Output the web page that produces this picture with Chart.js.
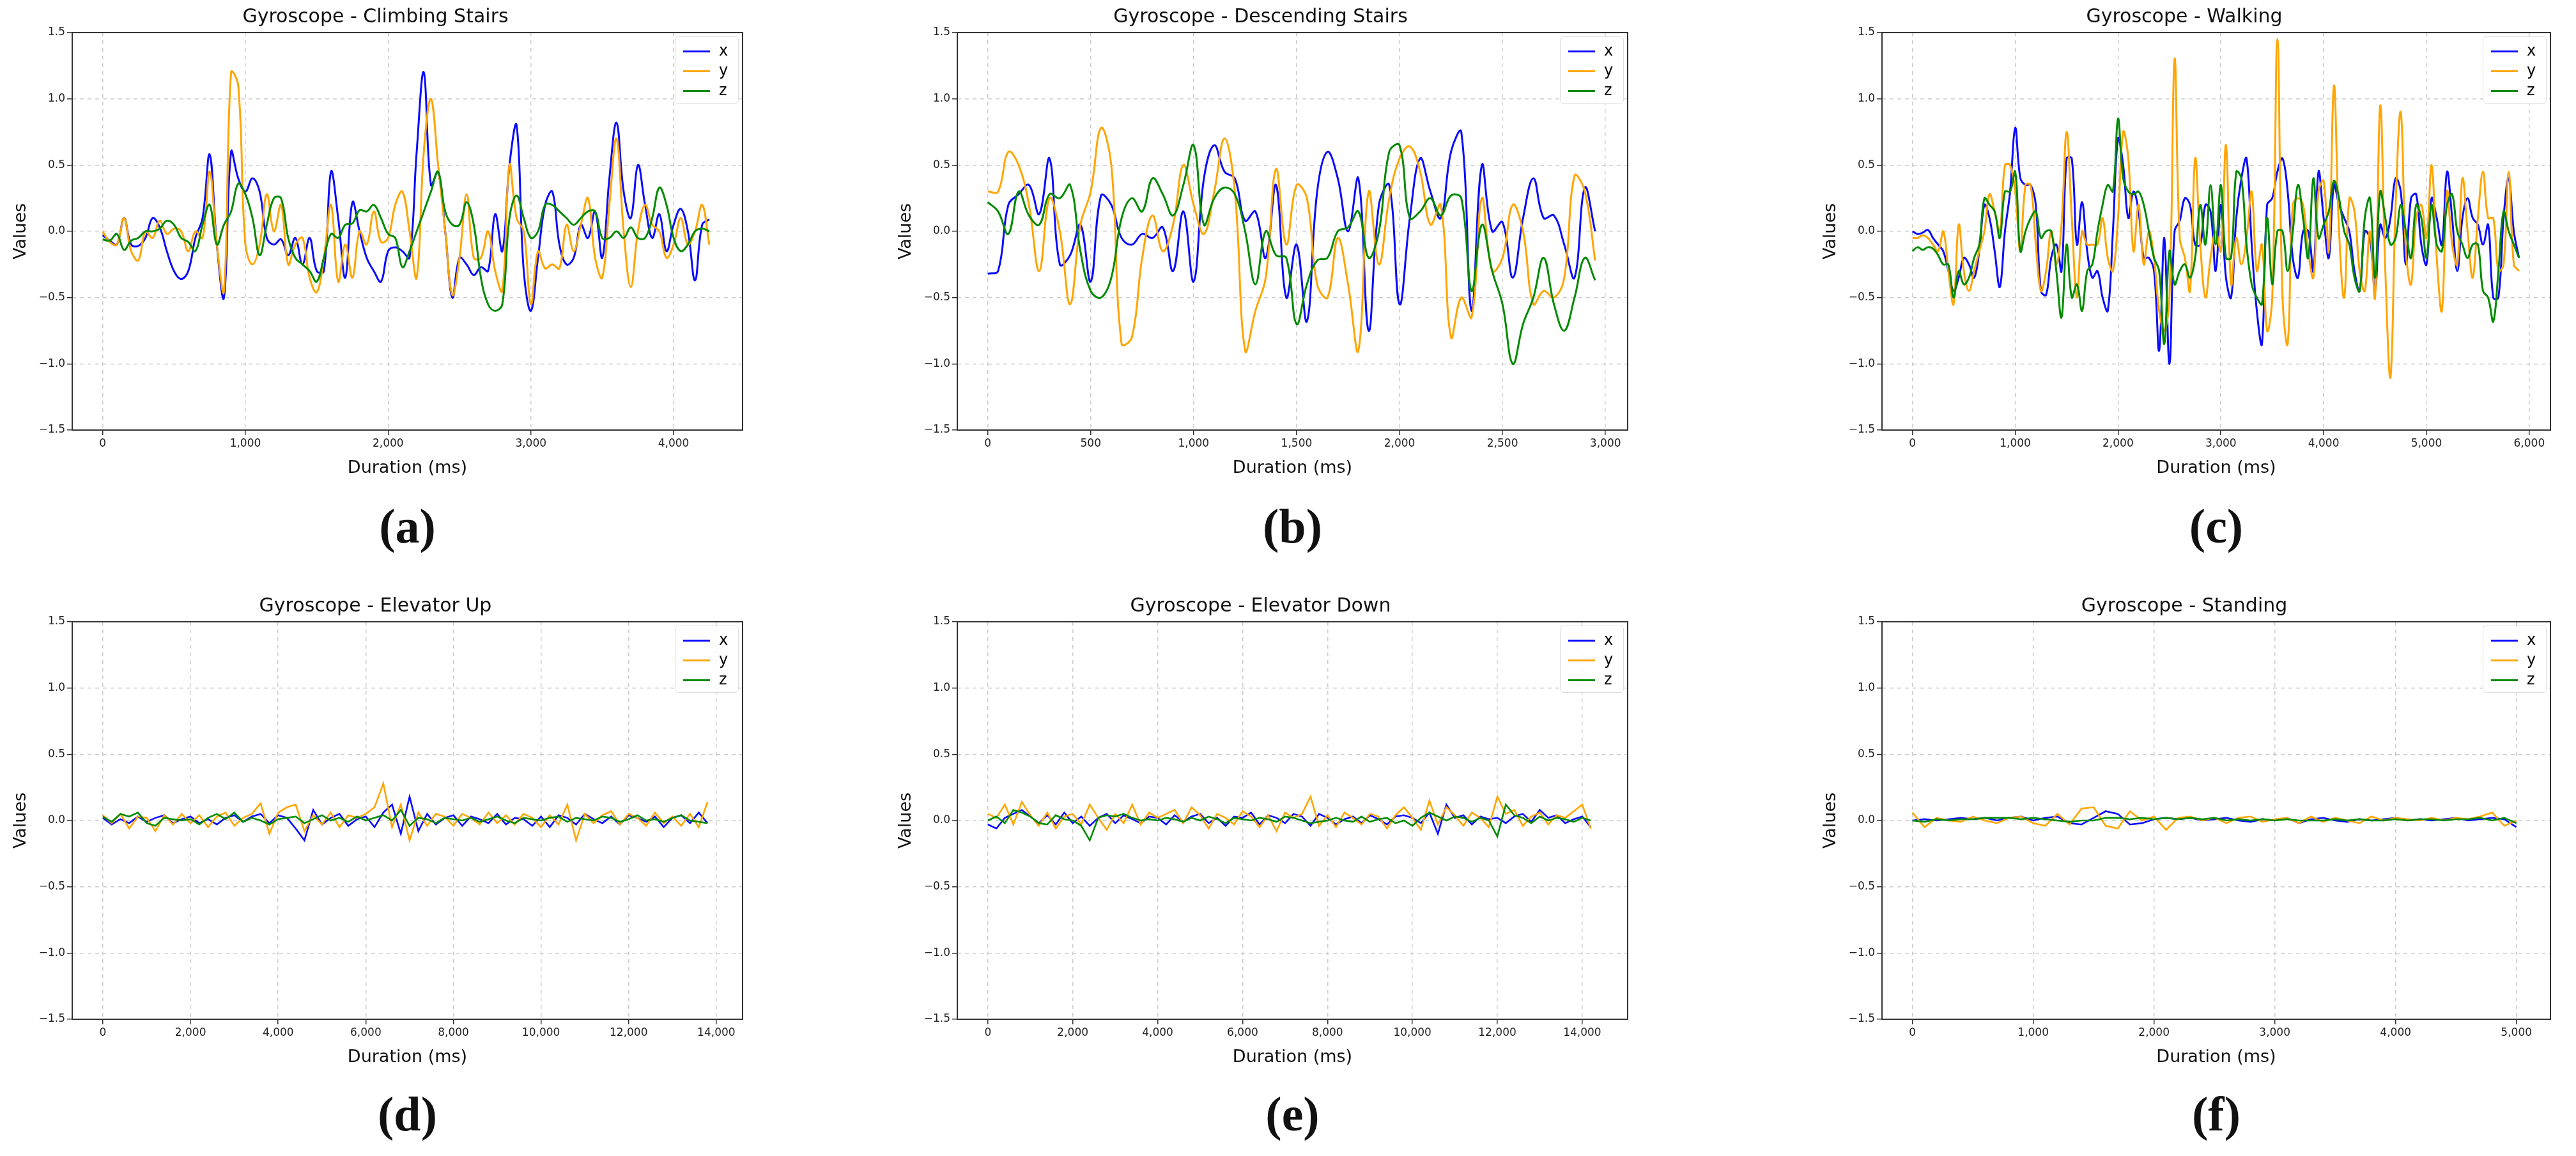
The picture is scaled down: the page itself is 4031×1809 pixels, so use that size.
<!DOCTYPE html>
<html>
<head>
<meta charset="utf-8">
<script src="https://cdn.jsdelivr.net/npm/chart.js@4.4.1/dist/chart.umd.min.js"></script>
<style>
  body { margin: 0; background: #fff; }
  #page { position: relative; width: 4031px; height: 1809px; background: #fff; overflow: hidden; }
  .panel { position: absolute; }
  .caption { position: absolute; font-family: "Liberation Serif", serif; font-weight: bold; font-size: 76px; transform: translate(-50%, -50%); color: #111; }
  .legend { position: absolute; width: 100px; height: 105px; border: 1.5px solid #ddd; border-radius: 5px; background: rgba(255,255,255,0.85); box-sizing: border-box; font-family: "DejaVu Sans", sans-serif; font-size: 24px; }
  .legend div { position: absolute; left: 12px; height: 30px; line-height: 30px; }
  .legend span.ln { display: inline-block; width: 42px; height: 3px; vertical-align: middle; margin-right: 14px; }
</style>
</head>
<body>
<div id="page"></div>
<script>
// ---- data (gyroscope readings) ----
const titles = ['Gyroscope - Climbing Stairs', 'Gyroscope - Descending Stairs', 'Gyroscope - Walking',
  'Gyroscope - Elevator Up', 'Gyroscope - Elevator Down', 'Gyroscope - Standing'];
const captions = ['(a)', '(b)', '(c)', '(d)', '(e)', '(f)'];
const steps = [50, 50, 50, 200, 200, 100];          // sample spacing in ms
const xRanges = [[-213, 4483], [-148, 3108], [-296, 6206], [-700, 14600], [-720, 15070], [-252, 5282]];
const xTickSteps = [1000, 500, 1000, 2000, 2000, 1000];
const yTicks = [-1.5, -1.0, -0.5, 0.0, 0.5, 1.0, 1.5];

const climbX = [-0.03,-0.07,-0.1,0.1,-0.1,-0.11,-0.05,0.1,0.03,-0.15,
  -0.3,-0.36,-0.3,-0.05,0.1,0.58,-0.1,-0.5,0.6,0.4,
  0.3,0.4,0.3,-0.05,-0.1,-0.06,-0.18,-0.05,-0.25,-0.05,
  -0.3,-0.3,0.45,0.1,-0.35,0.22,0.0,-0.2,-0.3,-0.38,
  -0.15,-0.12,-0.15,-0.2,0.6,1.2,0.35,0.45,0.0,-0.5,
  -0.2,-0.25,-0.33,-0.27,-0.3,0.13,-0.15,0.5,0.8,-0.3,
  -0.6,-0.2,0.2,0.3,-0.1,-0.25,-0.2,0.05,-0.05,0.15,
  -0.2,0.4,0.82,0.3,0.1,0.5,0.2,-0.05,0.13,-0.15,
  0.05,0.17,0.0,-0.37,0.05,0.09];
const climbY = [0.0,-0.08,-0.1,0.1,-0.15,-0.22,0.0,-0.05,0.08,-0.02,
  0.02,0.0,-0.15,0.0,-0.05,0.45,-0.1,-0.45,1.2,1.1,
  -0.1,-0.25,-0.1,0.28,0.0,0.2,-0.25,-0.1,-0.05,-0.35,
  -0.46,-0.2,0.2,-0.38,-0.1,-0.35,0.0,-0.1,0.15,-0.08,
  -0.05,0.2,0.3,0.0,-0.35,0.6,1.0,0.5,0.0,-0.48,
  -0.2,0.28,-0.2,-0.2,0.0,-0.3,-0.45,0.5,0.1,0.0,
  -0.55,-0.15,-0.28,-0.25,-0.28,0.05,-0.15,0.05,0.25,-0.2,
  -0.35,0.2,0.7,0.0,-0.42,0.0,0.2,0.05,0.0,-0.2,
  -0.1,0.1,-0.1,0.0,0.2,-0.1];
const climbZ = [-0.06,-0.07,-0.02,-0.14,-0.07,-0.05,0.0,0.0,0.02,0.08,
  0.05,-0.05,-0.08,-0.15,0.05,0.2,-0.1,0.05,0.15,0.36,
  0.28,0.1,-0.18,0.05,0.25,0.25,-0.05,-0.2,-0.25,-0.3,
  -0.38,-0.2,-0.02,-0.05,0.05,0.06,0.16,0.15,0.2,0.1,
  -0.02,-0.05,-0.27,-0.15,0.0,0.15,0.3,0.45,0.15,0.05,
  0.05,0.22,0.05,-0.35,-0.55,-0.6,-0.55,0.1,0.27,0.1,
  -0.05,0.0,0.2,0.2,0.15,0.1,0.05,0.1,0.15,0.15,
  -0.05,-0.05,0.0,-0.05,0.03,-0.05,-0.05,0.1,0.33,0.2,
  -0.05,-0.15,-0.1,0.0,0.02,0.0];

const descX = [-0.32,-0.3,0.2,0.28,0.35,0.13,0.55,-0.25,-0.18,0.05,
  -0.38,0.27,0.2,-0.05,-0.1,-0.02,-0.05,0.03,-0.3,0.15,
  -0.38,0.4,0.65,0.45,0.4,0.08,0.15,-0.2,0.35,-0.5,
  -0.1,-0.68,0.3,0.6,0.4,0.0,0.4,-0.75,0.2,0.35,
  -0.55,0.1,0.55,0.3,0.1,0.6,0.75,-0.6,0.5,0.0,
  0.07,-0.35,0.1,0.4,0.1,0.12,-0.1,-0.35,0.33,0.0];
const descY = [0.3,0.3,0.6,0.5,0.2,-0.3,0.25,0.0,-0.55,0.05,
  0.3,0.78,0.5,-0.85,-0.8,-0.2,0.12,-0.15,0.05,0.5,
  0.2,-0.02,0.3,0.7,0.3,-0.9,-0.6,-0.35,0.47,-0.1,
  0.35,0.25,-0.4,-0.5,-0.05,-0.4,-0.9,0.3,-0.25,0.25,
  0.55,0.64,0.45,0.05,0.2,-0.8,-0.5,-0.65,0.25,-0.3,
  -0.2,0.2,0.0,-0.55,-0.45,-0.5,-0.35,0.42,0.3,-0.22];
const descZ = [0.22,0.15,-0.02,0.3,0.12,0.05,0.28,0.25,0.35,-0.15,
  -0.45,-0.5,-0.35,0.1,0.25,0.15,0.4,0.28,0.12,0.35,
  0.65,0.05,0.25,0.33,0.28,0.0,-0.4,0.0,-0.18,-0.2,
  -0.7,-0.4,-0.22,-0.2,0.0,0.03,0.15,-0.2,0.0,0.6,
  0.65,0.1,0.15,0.25,0.12,0.27,0.25,-0.45,0.05,-0.3,
  -0.55,-1.0,-0.7,-0.5,-0.2,-0.55,-0.75,-0.5,-0.2,-0.37];

const walkX = [0.0,-0.02,-0.01,0.01,-0.05,-0.1,-0.15,-0.3,-0.45,-0.35,
  -0.2,-0.25,-0.35,-0.15,0.2,0.1,-0.15,-0.42,0.0,0.3,
  0.78,0.4,0.35,0.35,0.2,-0.45,-0.48,-0.2,-0.1,-0.3,
  0.55,0.55,-0.1,0.22,-0.15,-0.35,-0.3,-0.5,-0.6,0.0,
  0.7,0.5,0.1,0.3,0.15,-0.2,-0.2,-0.3,-0.9,-0.05,
  -1.0,0.0,0.08,0.25,0.2,-0.1,-0.1,0.2,0.15,-0.3,
  0.2,-0.35,-0.5,0.1,0.4,0.55,-0.1,-0.6,-0.85,0.2,
  0.25,0.45,0.55,0.3,-0.2,-0.35,0.0,0.0,-0.3,0.45,
  0.1,-0.2,0.35,0.2,0.1,0.0,-0.3,-0.45,0.0,-0.05,
  -0.45,0.05,-0.05,0.1,0.4,0.3,-0.25,0.25,0.28,-0.1,
  -0.25,0.25,0.1,-0.1,0.45,0.1,-0.3,0.1,0.25,0.1,
  0.05,-0.1,0.05,-0.5,-0.5,0.1,0.4,0.0,-0.2];
const walkY = [-0.05,-0.05,-0.03,-0.05,-0.1,-0.15,0.0,-0.3,-0.55,0.05,
  -0.3,-0.45,-0.3,-0.15,0.0,0.28,0.15,0.0,0.5,0.5,
  0.3,-0.15,0.35,0.35,-0.1,-0.45,-0.3,0.0,-0.25,0.05,
  0.75,0.1,-0.5,0.0,-0.1,-0.1,-0.1,0.1,-0.2,-0.3,
  0.1,0.75,0.55,-0.15,0.2,-0.25,0.0,-0.2,-0.6,-0.75,
  -0.5,1.3,-0.05,-0.2,-0.45,0.55,-0.1,-0.5,-0.2,0.0,
  -0.15,0.65,-0.4,-0.05,-0.25,-0.05,0.3,-0.3,-0.1,-0.75,
  -0.5,1.45,-0.5,-0.85,0.2,0.25,0.2,-0.15,-0.35,0.3,
  0.38,-0.15,1.1,0.0,-0.5,0.25,0.15,-0.3,-0.45,0.0,
  -0.5,0.95,-0.3,-1.1,0.2,0.9,-0.15,-0.4,0.1,0.2,
  -0.05,0.5,-0.2,-0.6,0.3,-0.1,-0.25,0.4,0.0,-0.35,
  0.1,0.45,0.1,0.1,-0.3,-0.25,0.45,-0.25,-0.3];
const walkZ = [-0.15,-0.12,-0.14,-0.12,-0.13,-0.18,-0.25,-0.25,-0.5,-0.3,
  -0.4,-0.35,-0.2,-0.1,0.25,0.2,0.15,-0.05,0.3,0.3,
  0.45,-0.15,0.0,0.1,0.15,-0.05,0.0,0.0,-0.3,-0.65,
  -0.1,-0.5,-0.4,-0.6,-0.3,-0.25,0.0,0.2,0.35,0.3,
  0.85,0.4,0.3,0.28,0.3,0.2,0.0,-0.2,-0.3,-0.85,
  -0.15,-0.4,-0.3,-0.25,-0.35,-0.2,0.2,-0.1,0.35,-0.1,
  0.35,-0.2,-0.2,0.45,0.4,-0.1,-0.4,-0.5,-0.55,0.1,
  -0.4,0.0,0.0,-0.3,0.0,0.35,0.1,-0.2,0.4,-0.05,
  0.05,0.15,0.38,0.25,0.0,-0.1,-0.35,-0.45,0.1,0.25,
  -0.35,0.3,0.1,-0.1,-0.05,0.2,0.0,-0.2,0.2,0.1,
  -0.2,0.2,-0.1,-0.15,0.2,0.28,0.0,-0.1,-0.2,-0.1,
  -0.1,-0.45,-0.5,-0.68,-0.3,0.15,0.0,-0.1,-0.2];

const upX = [0.02,-0.03,0.01,-0.02,0.03,-0.01,0.02,0.04,-0.02,0.01,
  0.03,-0.02,0.01,-0.03,0.02,0.04,-0.01,0.03,0.05,-0.02,
  0.04,0.02,-0.06,-0.15,0.08,-0.03,0.02,0.05,-0.04,0.01,
  0.03,-0.05,0.06,0.12,-0.1,0.18,-0.08,0.05,-0.03,0.02,
  0.04,-0.04,0.03,0.01,-0.02,0.05,-0.03,0.02,0.01,-0.04,
  0.03,-0.05,0.04,0.02,-0.03,0.05,0.01,-0.02,0.03,-0.03,
  0.04,0.02,-0.01,0.03,-0.05,0.02,0.04,-0.02,0.06,-0.02];
const upY = [0.04,-0.02,0.05,-0.06,0.03,0.02,-0.08,0.04,-0.03,0.05,
  -0.02,0.04,-0.05,0.03,0.06,-0.04,0.02,0.05,0.13,-0.1,
  0.06,0.1,0.12,-0.08,0.04,-0.03,0.06,-0.05,0.04,0.02,
  0.05,0.1,0.28,-0.05,0.12,-0.15,0.06,-0.04,0.05,0.03,
  -0.04,0.05,0.02,-0.03,0.06,-0.02,0.04,-0.03,0.05,0.02,
  -0.05,0.04,-0.03,0.12,-0.15,0.05,-0.02,0.04,0.07,-0.03,
  0.05,0.02,-0.04,0.06,-0.02,0.03,-0.04,0.05,-0.05,0.14];
const upZ = [0.03,-0.01,0.05,0.03,0.06,-0.02,-0.04,0.02,0.01,0.0,
  0.01,-0.03,0.02,0.05,0.01,0.06,-0.01,0.02,0.0,-0.03,
  0.01,0.02,0.03,-0.02,0.01,0.04,0.0,0.02,-0.01,0.03,
  0.0,0.02,0.04,0.0,0.08,-0.04,0.02,0.01,-0.02,0.02,
  0.01,0.0,0.02,-0.01,0.01,0.03,0.0,-0.02,0.02,0.01,
  0.0,0.02,0.03,-0.01,0.02,0.01,0.0,0.03,0.02,-0.01,
  0.01,0.04,0.0,0.01,-0.01,0.02,0.04,0.0,-0.01,-0.02];

const downX = [-0.03,-0.06,0.02,0.05,0.08,0.03,-0.02,0.04,-0.03,0.06,
  -0.02,0.03,-0.04,0.02,0.05,-0.02,0.04,0.01,-0.02,0.03,
  0.02,-0.03,0.04,-0.01,0.03,0.05,-0.02,0.02,-0.04,0.03,
  0.02,0.06,-0.03,0.04,0.02,-0.02,0.05,0.03,-0.04,0.05,
  0.02,-0.03,0.01,0.03,-0.02,0.04,0.01,-0.03,0.03,0.04,
  0.02,-0.02,0.06,-0.1,0.12,0.02,0.04,-0.03,0.03,0.01,
  0.02,-0.02,0.03,0.05,-0.01,0.08,0.02,0.04,-0.02,0.01,
  0.03,-0.05];
const downY = [0.05,0.02,0.12,-0.03,0.14,0.04,-0.04,0.06,-0.06,0.03,
  0.05,-0.03,0.12,0.02,-0.07,0.05,-0.02,0.12,-0.03,0.06,
  0.02,0.05,0.08,-0.02,0.1,0.04,-0.06,0.05,0.02,-0.03,
  0.07,0.03,-0.05,0.04,-0.08,0.06,0.02,0.05,0.18,-0.04,
  0.04,-0.05,0.06,0.02,-0.03,0.05,0.03,-0.06,0.04,0.1,
  0.02,-0.07,0.15,-0.03,0.1,0.04,-0.04,0.06,0.02,-0.05,
  0.18,0.05,0.08,-0.04,0.03,0.06,-0.03,0.04,0.02,0.07,
  0.12,-0.06];
const downZ = [0.0,0.03,-0.02,0.08,0.06,0.03,-0.02,-0.03,0.04,0.01,
  0.0,-0.04,-0.15,0.02,0.04,0.03,0.05,0.02,0.0,0.01,
  0.0,0.02,0.01,-0.01,0.02,0.0,0.03,0.01,-0.02,0.02,
  0.01,0.0,0.02,0.01,-0.01,0.03,0.02,0.0,-0.02,-0.01,
  0.0,0.02,0.0,-0.01,0.03,-0.01,0.01,0.02,-0.02,0.0,
  -0.04,0.02,0.06,0.03,0.0,0.03,0.02,-0.01,0.02,0.0,
  -0.12,0.12,0.04,0.02,-0.02,0.03,0.0,0.02,0.01,-0.01,
  0.02,0.0];

const standX = [0.0,0.01,0.0,0.01,0.02,0.01,0.02,0.0,0.02,0.03,
  0.0,0.02,0.03,-0.02,-0.03,0.02,0.07,0.05,-0.03,-0.02,
  0.01,0.02,0.01,0.02,0.0,0.01,0.02,0.0,-0.01,0.01,
  0.0,0.02,-0.02,0.01,0.02,0.0,-0.01,0.01,0.0,0.01,
  0.02,0.0,0.01,0.0,0.01,0.02,0.0,0.01,0.02,0.01,-0.05];
const standY = [0.06,-0.05,0.02,0.0,-0.01,0.03,0.0,-0.02,0.02,0.03,
  -0.02,-0.04,0.05,-0.03,0.09,0.1,-0.04,-0.06,0.07,0.0,
  0.03,-0.07,0.02,0.03,0.0,0.02,-0.02,0.02,0.03,-0.01,
  0.01,0.02,-0.02,0.03,-0.01,0.02,0.0,-0.02,0.03,0.0,
  0.02,0.01,0.0,0.02,0.0,0.02,0.01,0.03,0.06,-0.04,0.0];
const standZ = [0.0,-0.01,0.01,0.0,0.01,0.01,0.02,0.02,0.02,0.01,
  0.02,0.01,0.0,-0.01,0.0,0.0,0.02,0.02,0.01,0.02,
  0.01,0.02,0.01,0.02,0.01,0.02,0.0,0.01,0.0,0.01,
  0.0,0.01,0.0,0.0,0.0,0.01,0.0,0.01,0.0,0.0,
  0.01,0.0,0.01,0.01,0.0,0.01,0.01,0.02,0.0,0.02,-0.02];

const seriesX = [climbX, descX, walkX, upX, downX, standX];
const seriesY = [climbY, descY, walkY, upY, downY, standY];
const seriesZ = [climbZ, descZ, walkZ, upZ, downZ, standZ];
const colors = { x: '#0a0aff', y: '#ffa500', z: '#008a00' };

// plot areas (pixels on page)
const colLeft = [113, 1498, 2945];
const colWidth = [1049, 1049, 1046];
const rowTop = [49, 971];
const plotH = 624;
const captionY = [823, 1743];

// outline the plot area like matplotlib's frame
const framePlugin = {
  id: 'frame',
  afterDraw(chart) {
    const { ctx, chartArea: a } = chart;
    ctx.save();
    ctx.strokeStyle = '#333';
    ctx.lineWidth = 2;
    ctx.strokeRect(a.left, a.top, a.right - a.left, a.bottom - a.top);
    ctx.restore();
  }
};

const page = document.getElementById('page');

function makePanel(i) {
  const col = i % 3, row = Math.floor(i / 3);
  const L = colLeft[col], T = rowTop[row], W = colWidth[col];
  const box = document.createElement('div');
  box.className = 'panel';
  box.style.left = (L - 100) + 'px';
  box.style.top = (T - 60) + 'px';
  box.style.width = (W + 130) + 'px';
  box.style.height = (plotH + 140) + 'px';
  const canvas = document.createElement('canvas');
  box.appendChild(canvas);
  page.appendChild(box);

  const step = steps[i];
  const toPts = arr => arr.map((v, k) => ({ x: k * step, y: v }));
  const top = row === 0;
  const lw = top ? 3 : 2.6;
  const tension = top ? 0.4 : 0;
  const xStep = xTickSteps[i];
  const xMax = xRanges[i][1];

  new Chart(canvas, {
    type: 'line',
    data: {
      datasets: [
        { label: 'x', data: toPts(seriesX[i]), borderColor: colors.x, borderWidth: lw, tension, order: 2 },
        { label: 'y', data: toPts(seriesY[i]), borderColor: colors.y, borderWidth: lw, tension, order: 1 },
        { label: 'z', data: toPts(seriesZ[i]), borderColor: colors.z, borderWidth: lw, tension, order: 0 }
      ]
    },
    options: {
      responsive: true,
      maintainAspectRatio: false,
      devicePixelRatio: 1,
      animation: false,
      elements: { point: { radius: 0 } },
      layout: { padding: { top: 10, right: 30, left: 0, bottom: 0 } },
      plugins: {
        legend: { display: false },
        tooltip: { enabled: false },
        title: {
          display: true, text: titles[i], color: '#111',
          font: { family: 'DejaVu Sans', size: 30, weight: 'normal' },
          padding: { top: 10, bottom: 6 }
        }
      },
      scales: {
        x: {
          type: 'linear', min: xRanges[i][0], max: xMax,
          afterBuildTicks: axis => {
            const t = [];
            for (let v = 0; v <= xMax; v += xStep) t.push({ value: v });
            axis.ticks = t;
          },
          afterFit: s => { s.height = 80; },
          ticks: { color: '#222', font: { family: 'DejaVu Sans', size: 17 }, maxRotation: 0, autoSkip: false,
            callback: v => v.toLocaleString('en-US') },
          grid: { color: '#cccccc', lineWidth: 1.5, tickColor: '#333', tickLength: 8 },
          border: { display: false, dash: [6, 6] },
          title: { display: true, text: 'Duration (ms)', color: '#111', padding: { top: 2 },
            font: { family: 'DejaVu Sans', size: 27 } }
        },
        y: {
          min: -1.5, max: 1.5,
          afterBuildTicks: axis => { axis.ticks = yTicks.map(v => ({ value: v })); },
          afterFit: s => { s.width = 100; },
          ticks: { color: '#222', font: { family: 'DejaVu Sans', size: 17 },
            callback: v => Number(v).toFixed(1).replace('-', '\u2212') },
          grid: { color: '#cccccc', lineWidth: 1.5, tickColor: '#333', tickLength: 8 },
          border: { display: false, dash: [6, 6] },
          title: { display: true, text: 'Values', color: '#111',
            font: { family: 'DejaVu Sans', size: 27 } }
        }
      }
    },
    plugins: [framePlugin]
  });

  // legend box in the upper right corner of the plot
  const lg = document.createElement('div');
  lg.className = 'legend';
  lg.style.left = (L + W - 106) + 'px';
  lg.style.top = (T + 8) + 'px';
  ['x', 'y', 'z'].forEach((k, j) => {
    const r = document.createElement('div');
    r.style.top = (6 + j * 31) + 'px';
    r.innerHTML = '<span class="ln" style="background:' + colors[k] + '"></span>' + k;
    lg.appendChild(r);
  });
  page.appendChild(lg);

  const cap = document.createElement('div');
  cap.className = 'caption';
  cap.style.left = (L + W / 2) + 'px';
  cap.style.top = captionY[row] + 'px';
  cap.textContent = captions[i];
  page.appendChild(cap);
}

for (let i = 0; i < 6; i++) makePanel(i);
</script>
</body>
</html>
